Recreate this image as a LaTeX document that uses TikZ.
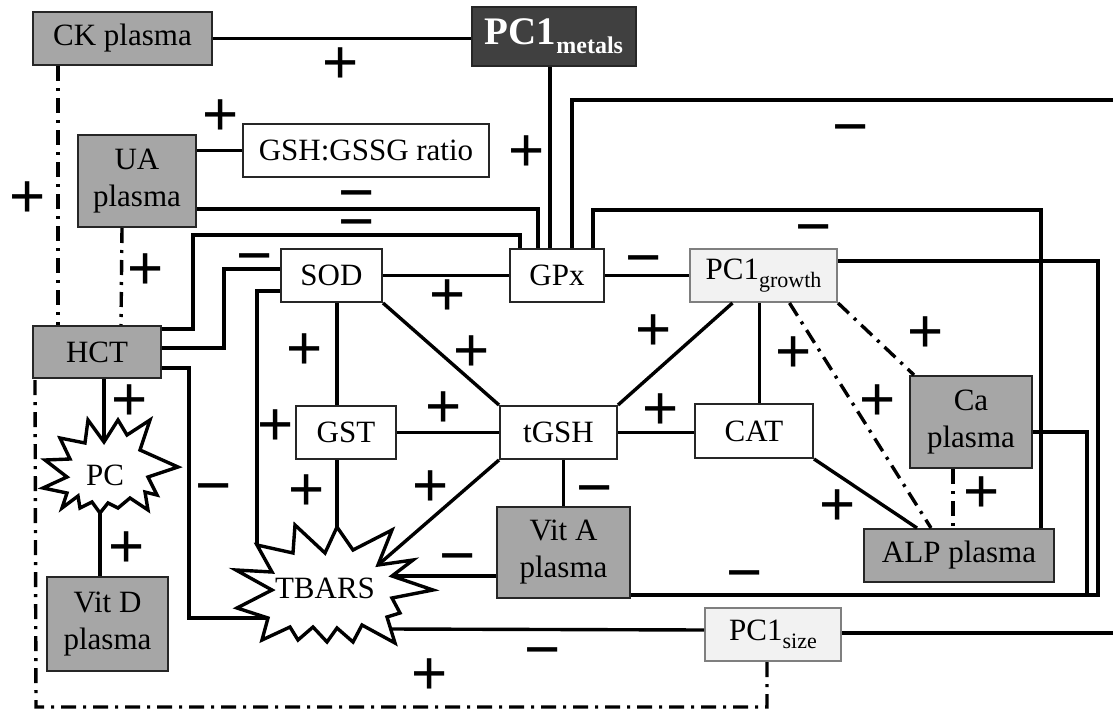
\documentclass[tikz,border=0pt]{standalone}
\usepackage{fontspec}
\setmainfont{Liberation Serif}
\newfontfamily\signfont{Liberation Sans}
\usetikzlibrary{calc}
\definecolor{boxgray}{HTML}{A6A6A6}
\definecolor{darkbox}{HTML}{404040}
\definecolor{lightbox}{HTML}{F2F2F2}
\definecolor{lightedge}{HTML}{7F7F7F}
\newcommand\plussign{{\signfont +}}
\newcommand\minussign{{\signfont −}}
\begin{document}
\begin{tikzpicture}[x=1pt,y=-1pt,
  box/.style={draw=black!85, line width=2pt, inner sep=0pt, align=center, font=\fontsize{31}{37}\selectfont},
  graybox/.style={box, fill=boxgray},
  whitebox/.style={box, fill=white},
  pcbox/.style={box, fill=lightbox, draw=lightedge},
  conn/.style={line width=3.4pt, line join=miter},
  dd/.style={conn, dash pattern=on 15pt off 7pt on 3pt off 7pt},
  sign/.style={inner sep=0pt, font=\fontsize{62}{62}\selectfont},
  msign/.style={sign, anchor=base, yshift=-19.5pt},
  burst/.style={draw, fill=white, line width=3.4pt, line join=miter},
  bursttext/.style={inner sep=0pt, font=\fontsize{31}{37}\selectfont}]
\useasboundingbox (0,0) rectangle (1113,709);

% ---------- boxes ----------
\node[graybox, minimum width=179pt, minimum height=53pt] (CK) at (122.5,38.5) {CK plasma};
\node[box, fill=darkbox, text=white, minimum width=164pt, minimum height=59pt] (PC1m) at (554,36.5)
  {\fontsize{39}{39}\selectfont\bfseries PC1\raisebox{-9pt}{\fontsize{24}{24}\selectfont\bfseries metals}};
\node[whitebox, minimum width=246pt, minimum height=53pt] (GSHr) at (366,150.5) {GSH:GSSG ratio};
\node[graybox, minimum width=118pt, minimum height=92pt] (UA) at (137,181) {UA\\plasma};
\node[graybox, minimum width=128pt, minimum height=52pt] (HCT) at (97,352) {HCT};
\node[whitebox, minimum width=101pt, minimum height=53pt] (SOD) at (331.5,275.5) {SOD};
\node[whitebox, minimum width=94pt, minimum height=53pt] (GPx) at (557,275.5) {GPx};
\node[pcbox, minimum width=147pt, minimum height=53pt] (PC1g) at (763.5,275.5)
  {PC1\raisebox{-8pt}{\fontsize{22}{22}\selectfont growth}};
\node[whitebox, minimum width=100pt, minimum height=53pt] (GST) at (346,432.5) {GST};
\node[whitebox, minimum width=117pt, minimum height=53pt] (tGSH) at (558.5,432.5) {tGSH};
\node[whitebox, minimum width=118pt, minimum height=54pt] (CAT) at (754,431) {CAT};
\node[graybox, minimum width=122pt, minimum height=92pt] (Ca) at (971,422) {Ca\\plasma};
\node[graybox, minimum width=190pt, minimum height=53pt] (ALP) at (959,555.5) {ALP plasma};
\node[graybox, minimum width=133pt, minimum height=91pt] (VitA) at (563.5,552.5) {Vit A\\plasma};
\node[graybox, minimum width=121pt, minimum height=94pt] (VitD) at (107.5,624) {Vit D\\plasma};
\node[pcbox, minimum width=136pt, minimum height=53pt] (PC1s) at (773,634.5)
  {PC1\raisebox{-8pt}{\fontsize{22}{22}\selectfont size}};

% ---------- starbursts ----------
\draw[burst] (45,460) -- (70,459) -- (60,438) -- (85,443) -- (88,420) -- (104,442) -- (118,420)
  -- (127,435) -- (150,420) -- (140,450) -- (178,467) -- (148,477) -- (157,495) -- (145,492)
  -- (148,510) -- (130,498) -- (118,508) -- (108,503) -- (100,513) -- (92,502) -- (80,508)
  -- (78,496) -- (62,508) -- (67,493) -- (43,488) -- (67,477) -- cycle;
\node[bursttext] (PC) at (105,475) {PC};

\draw[burst] (257,545) -- (293,553) -- (295,525) -- (325,553) -- (337,527) -- (353,550)
  -- (392,530) -- (378,565) -- (413,560) -- (392,576) -- (433,590) -- (392,598) -- (400,613)
  -- (387,617) -- (395,643) -- (362,625) -- (353,642) -- (337,628) -- (327,642) -- (313,627)
  -- (298,640) -- (290,627) -- (262,640) -- (268,618) -- (237,608) -- (272,590) -- (236,570)
  -- (272,572) -- cycle;
\node[bursttext] (TBARS) at (325,588) {TBARS};

% ---------- free ends at the right edge ----------
\coordinate (edgeTop) at (1113,100);
\coordinate (edgeBot) at (1113,633);

% ---------- solid connectors ----------
\draw[conn] (CK.east) -- (CK.east -| PC1m.west);
\draw[conn] (UA.east |- GSHr.west) -- (GSHr.west);
\draw[conn] ($(PC1m.south)+(-4,0)$) -- ($(GPx.north)+(-7,0)$);
\draw[conn] ($(UA.east)+(0,28)$) -| ($(GPx.north west)+(29,0)$);
\draw[conn] ($(HCT.east)+(0,-23)$) -| (193,235) -| ($(GPx.north west)+(11,0)$);
\draw[conn] ($(HCT.east)+(0,-4)$) -| ($(SOD.west)+(-56,-6.5)$) -- ($(SOD.west)+(0,-6.5)$);
\draw[conn] ($(HCT.east)+(0,16)$) -| ($(TBARS)+(-136,30)$) -- ($(TBARS)+(-57,30)$);
\draw[conn] ($(SOD.west)+(0,15.5)$) -| ($(TBARS)+(-68,-43)$);
\draw[conn] (SOD.east) -- (GPx.west);
\draw[conn] ($(SOD.south)+(5.5,0)$) -- ($(GST.north)+(-9,0)$);
\draw[conn] (SOD.south east) -- (tGSH.north west);
\draw[conn] (GST.east) -- (tGSH.west);
\draw[conn] ($(GST.south)+(-9,0)$) -- ($(TBARS)+(12,-61)$);
\draw[conn] (tGSH.south west) -- ($(TBARS)+(53,-23)$);
\draw[conn] (VitA.north |- tGSH.south) -- (VitA.north);
\draw[conn] (tGSH.east) -- (tGSH.east -| CAT.west);
\draw[conn] (tGSH.north east) -- ($(PC1g.south)+(-31,0)$);
\draw[conn] ($(PC1g.south)+(-4,0)$) coordinate (pgc) -- (pgc |- CAT.north);
\draw[conn] (GPx.east) -- (PC1g.west);
\draw[conn] (CAT.south east) -- ($(ALP.north)+(-42,0)$);
\draw[conn] ($(VitA.west)+(0,23.5)$) -- ($(TBARS)+(67,-12)$);
\draw[conn] ($(TBARS)+(66,41)$) -- ($(PC1s.west)+(0,-4.5)$);
\draw[conn] ($(PC1s.east)+(0,-1.5)$) -- (edgeBot);
\draw[conn] ($(HCT.south)+(7,0)$) -- ($(PC)+(-1,-33)$);
\draw[conn] ($(PC)+(-5,38)$) -- ($(VitD.north)+(-7.5,0)$);
\draw[conn] ($(GPx.north)+(15,0)$) |- (edgeTop);
\draw[conn] ($(GPx.north)+(36,0)$) -- ++(0,-38) -| ($(ALP.north)+(82,0)$);
\draw[conn] ($(PC1g.east)+(0,-14.5)$) -| (1098,595) -- ($(VitA.east)+(0,42.5)$);
\draw[conn] ($(Ca.east)+(0,10)$) -| (1087,595) -- ($(VitA.east)+(0,42.5)$);

% ---------- dash-dot connectors ----------
\draw[dd] ($(CK.south west)+(26,0)$) -- ($(HCT.north west)+(26,0)$);
\draw[dd] ($(UA.south)+(-15,0)$) -- ($(HCT.north west)+(89,0)$);
\draw[dd] ($(PC1g.south)+(26,0)$) -- ($(ALP.north)+(-28,0)$);
\draw[dd] (PC1g.south east) -- ($(Ca.north west)+(5,0)$);
\draw[dd] ($(Ca.south)+(-18,0)$) -- ($(ALP.north)+(-6,0)$);
\draw[dd] ($(PC1s.south)+(-6,0)$) |- (36,707) -- ($(HCT.south west)+(3,0)$);

% ---------- signs ----------
\node[sign] (s1) at (341,66) {\plussign};
\node[sign] (s2) at (221,118) {\plussign};
\node[sign] (s3) at (527,154) {\plussign};
\node[sign] (s4) at (28,200) {\plussign};
\node[msign] (s5) at (357,194) {\minussign};
\node[msign] (s6) at (357,223) {\minussign};
\node[msign] (s7) at (851,128) {\minussign};
\node[msign] (s8) at (814,228) {\minussign};
\node[sign] (s9) at (146,272) {\plussign};
\node[msign] (s10) at (255,257) {\minussign};
\node[sign] (s11) at (448,298) {\plussign};
\node[sign] (s12) at (305,352) {\plussign};
\node[sign] (s13) at (472,354) {\plussign};
\node[sign] (s14) at (444,410) {\plussign};
\node[sign] (s15) at (276,428) {\plussign};
\node[sign] (s16) at (130,403) {\plussign};
\node[msign] (s17) at (644,259) {\minussign};
\node[sign] (s18) at (654,333) {\plussign};
\node[sign] (s19) at (794,355) {\plussign};
\node[sign] (s20) at (661,412) {\plussign};
\node[sign] (s21) at (926,335) {\plussign};
\node[sign] (s22) at (878,403) {\plussign};
\node[msign] (s23) at (214,487) {\minussign};
\node[sign] (s24) at (307,493) {\plussign};
\node[sign] (s25) at (431,489) {\plussign};
\node[msign] (s26) at (595,489) {\minussign};
\node[sign] (s27) at (838,508) {\plussign};
\node[sign] (s28) at (982,495) {\plussign};
\node[sign] (s29) at (127,550) {\plussign};
\node[msign] (s30) at (458,557) {\minussign};
\node[msign] (s31) at (745,574) {\minussign};
\node[msign] (s32) at (543,651) {\minussign};
\node[sign] (s33) at (430,677) {\plussign};
\end{tikzpicture}
\end{document}
